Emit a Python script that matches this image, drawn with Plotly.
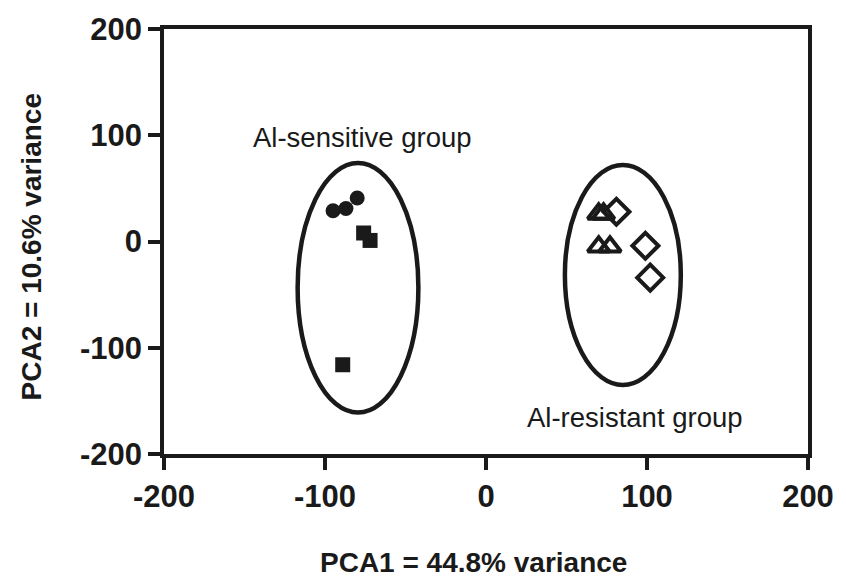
import plotly.graph_objects as go

# Data
circle_x = [-95, -87, -80]
circle_y = [29, 31, 41]
square_x = [-76, -72, -89]
square_y = [8, 1, -116]
triangle_x = [70, 73, 70, 77]
triangle_y = [26, 26, -5, -5]
diamond_x = [81, 99, 102]
diamond_y = [28, -4, -34]

# group ellipses: [x0, x1, y0, y1]
ellipse_sensitive = [-117, -42, -161, 74]
ellipse_resistant = [49, 121, -135, 72]

x_ticks = [-200, -100, 0, 100, 200]
x_tick_labels = ["-200", "-100", "0", "100", "200"]
y_ticks = [-200, -100, 0, 100, 200]
y_tick_labels = ["-200", "-100", "0", "100", "200"]

FONT = "Liberation Sans, Arial, sans-serif"
BLACK = "#1a1a1a"

fig = go.Figure()
fig.add_trace(go.Scatter(x=circle_x, y=circle_y, mode="markers",
                         marker=dict(symbol="circle", size=15, color=BLACK, line=dict(width=0))))
fig.add_trace(go.Scatter(x=square_x, y=square_y, mode="markers",
                         marker=dict(symbol="square", size=15, color=BLACK, line=dict(width=0))))
fig.add_trace(go.Scatter(x=triangle_x, y=triangle_y, mode="markers",
                         marker=dict(symbol="triangle-up-open", size=19, color=BLACK, line=dict(width=4, color=BLACK))))
fig.add_trace(go.Scatter(x=diamond_x, y=diamond_y, mode="markers",
                         marker=dict(symbol="diamond-open", size=20, color=BLACK, line=dict(width=4, color=BLACK))))

for e in (ellipse_sensitive, ellipse_resistant):
    fig.add_shape(type="circle", xref="x", yref="y", x0=e[0], x1=e[1], y0=e[2], y1=e[3],
                  line=dict(color=BLACK, width=4.5))

fig.add_annotation(x=-146, y=98, xref="x", yref="y", text="Al-sensitive group", showarrow=False,
                   xanchor="left", yanchor="middle", font=dict(family=FONT, size=27.5, color=BLACK))
fig.add_annotation(x=24, y=-166, xref="x", yref="y", text="Al-resistant group", showarrow=False,
                   xanchor="left", yanchor="middle", font=dict(family=FONT, size=27.5, color=BLACK))

fig.add_annotation(x=0.48, y=-0.255, xref="paper", yref="paper", text="<b>PCA1 = 44.8% variance</b>",
                   showarrow=False, xanchor="center", yanchor="middle",
                   font=dict(family=FONT, size=28, color=BLACK))
fig.add_annotation(x=-0.2065, y=0.486, xref="paper", yref="paper", text="<b>PCA2 = 10.6% variance</b>",
                   showarrow=False, xanchor="center", yanchor="middle", textangle=-90,
                   font=dict(family=FONT, size=28, color=BLACK))

axis_common = dict(showgrid=False, zeroline=False, showline=True, linecolor=BLACK, linewidth=3.5,
                   mirror=True, ticks="outside", ticklen=12, tickwidth=3.5, tickcolor=BLACK,
                   tickfont=dict(family=FONT, size=31, color=BLACK, weight="bold"))

fig.update_layout(
    width=846, height=588,
    margin=dict(l=164, r=33, t=22, b=134),
    paper_bgcolor="white", plot_bgcolor="white",
    showlegend=False,
    xaxis=dict(range=[-200, 200], tickvals=x_ticks, ticktext=x_tick_labels, **axis_common),
    yaxis=dict(range=[-200, 200], tickvals=y_ticks, ticktext=y_tick_labels, **axis_common),
)

fig.write_html("out.html")
